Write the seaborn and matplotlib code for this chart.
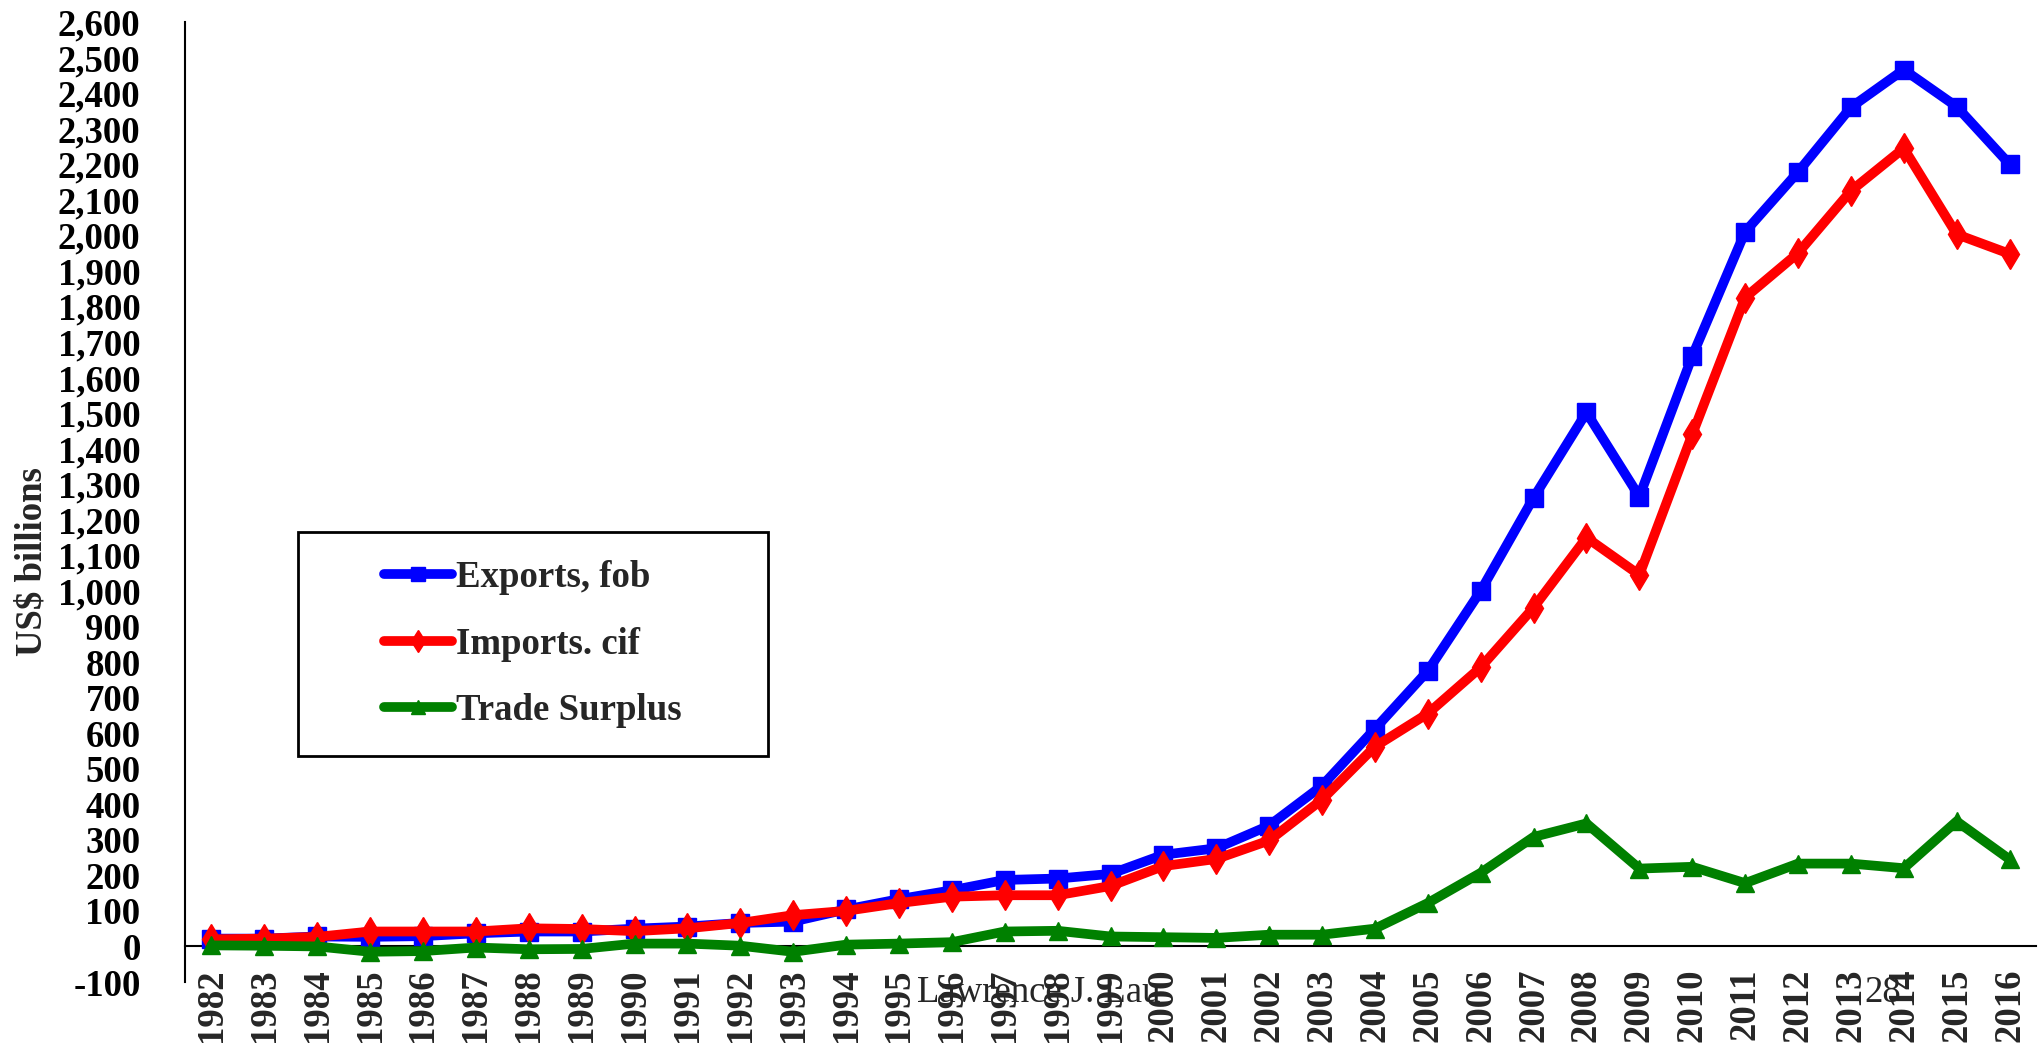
import numpy as np
import matplotlib
matplotlib.use("Agg")
import matplotlib.pyplot as plt
import seaborn as sns
from matplotlib.ticker import FuncFormatter
from matplotlib.patches import Rectangle

# China's merchandise trade, US$ billions
years = list(range(1982, 2017))
exports = [22, 22, 28, 27, 29, 37, 42, 42, 50, 56, 66, 70, 104, 133, 158, 187, 191, 204,
           258, 276, 340, 452, 612, 775, 1000, 1262, 1502, 1265, 1660, 2010, 2178, 2360,
           2466, 2362, 2200]
imports = [20, 22, 27, 42, 42, 42, 51, 49, 43, 51, 66, 88, 100, 122, 140, 144, 144, 170,
           226, 246, 298, 413, 562, 655, 785, 953, 1150, 1045, 1440, 1825, 1950, 2125,
           2245, 2003, 1948]
surplus = [3, 2, 0, -15, -13, -3, -8, -7, 8, 8, 2, -15, 5, 8, 12, 42, 44, 28, 26, 24, 33,
           33, 50, 122, 207, 308, 346, 219, 224, 178, 233, 233, 220, 352, 245]
series_names = ["Exports, fob", "Imports. cif", "Trade Surplus"]
y_ticks = list(range(-100, 2601, 100))
y_title = "US$ billions"
footer_author = "Lawrence J. Lau"
footer_page = "28"

sns.set_style("white")
plt.rcParams["font.family"] = ["Liberation Serif", "DejaVu Serif"]
plt.rcParams["font.weight"] = "bold"

W, H = 2040, 1047
FS = 26.5
fig = plt.figure(figsize=(W / 100, H / 100), dpi=100)
ax = fig.add_axes([185 / W, 65 / H, 1851 / W, 960 / H])

styles = [("#0000ff", "s", 13), ("#ff0000", "d", 15), ("#008000", "^", 13)]
for vals, name, (c, m, ms) in zip([exports, imports, surplus], series_names, styles):
    sns.lineplot(x=years, y=vals, ax=ax, color=c, marker=m, markersize=ms,
                 linewidth=7, markeredgecolor=c, markerfacecolor=c,
                 markeredgewidth=1, label=name, solid_joinstyle="round",
                 solid_capstyle="round", clip_on=False)

# value axis
ax.set_xlim(years[0] - 0.5, years[-1] + 0.5)
ax.set_ylim(y_ticks[0], y_ticks[-1])
ax.set_yticks(y_ticks)
ax.yaxis.set_major_formatter(FuncFormatter(lambda v, p: f"{v:,.0f}"))
ax.tick_params(axis="y", direction="in", length=9, width=1.5, pad=32,
               labelsize=FS, colors="black")
for s in ["top", "right"]:
    ax.spines[s].set_visible(False)
ax.spines["left"].set_linewidth(1.5)
ax.spines["left"].set_color("black")

# category axis line crosses at zero with tick marks between years
ax.set_axisbelow(True)
ax.spines["bottom"].set_position(("data", 0))
ax.spines["bottom"].set_linewidth(1.5)
ax.spines["bottom"].set_color("black")
ax.spines["bottom"].set_zorder(1)
ax.set_xticks(np.arange(years[0] - 0.5, years[-1] + 1))
ax.tick_params(axis="x", direction="in", length=12, width=1.5, labelbottom=False,
               colors="black")
ax.set_xlabel("")
ax.set_ylabel("")

# year labels along the bottom edge
sec = ax.secondary_xaxis("bottom")
sec.set_xticks(years, [str(y) for y in years])
sec.tick_params(length=0, pad=-10, labelsize=FS, labelrotation=90)
sec.spines["bottom"].set_visible(False)

fig.text(32 / W, 1 - 562 / H, y_title, rotation=90, ha="center", va="center",
         fontsize=FS, weight="bold")

# legend in a framed box
leg = ax.legend(loc="center", bbox_to_anchor=(533 / W, 1 - 644 / H),
                bbox_transform=fig.transFigure, frameon=False,
                prop={"size": FS, "weight": "bold"}, handlelength=1.84,
                handletextpad=0.1, labelspacing=0.85, markerscale=0.75,
                borderpad=0)
fig.add_artist(Rectangle((298 / W, 1 - 756 / H), 470 / W, 224 / H,
                         transform=fig.transFigure, fill=False, lw=2,
                         ec="black"))

fig.text(917 / W, 1 - 993 / H, footer_author, ha="left", va="center",
         fontsize=FS, weight="normal")
fig.text(1864 / W, 1 - 993 / H, footer_page, ha="left", va="center",
         fontsize=FS, weight="normal")

fig.savefig("out.png", dpi=100)
